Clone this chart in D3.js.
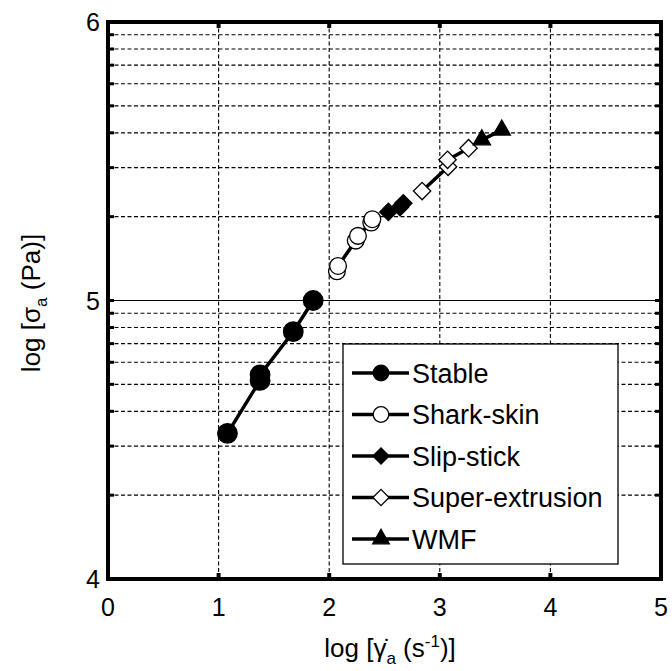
<!DOCTYPE html>
<html><head><meta charset="utf-8">
<script src="https://cdn.jsdelivr.net/npm/d3@7"></script>
<style>body{margin:0;background:#fff}svg{display:block}text{font-family:"Liberation Sans",Arial,sans-serif;fill:#000}</style>
</head><body>
<svg id="c" width="672" height="671"></svg>
<script>
// ---- data ----
const xTicks = [0, 1, 2, 3, 4, 5];
const yTicks = [4, 5, 6];
const seriesNames = ["Stable", "Shark-skin", "Slip-stick", "Super-extrusion", "WMF"];
const stableX = [1.08, 1.375, 1.375, 1.675, 1.855];
const stableY = [4.523, 4.713, 4.733, 4.888, 5.0];
const sharkX = [2.07, 2.08, 2.24, 2.26, 2.38, 2.39];
const sharkY = [5.105, 5.124, 5.215, 5.232, 5.28, 5.292];
const slipX = [2.535, 2.64, 2.67];
const slipY = [5.318, 5.335, 5.349];
const superX = [2.84, 3.075, 3.07, 3.26];
const superY = [5.393, 5.48, 5.505, 5.547];
const wmfX = [3.38, 3.56];
const wmfY = [5.577, 5.612];

const svg = d3.select("#c");
const L = 108, R = 661, T = 22, B = 579;
const x = d3.scaleLinear().domain([0, 5]).range([L, R]);
const y = d3.scaleLinear().domain([4, 6]).range([B, T]);

// minor log grid values
const minor = [];
[4, 5].forEach(e => { for (let k = 2; k <= 9; k++) minor.push(e + Math.log10(k)); });

const g = svg.append("g");
g.selectAll(".hg").data(minor).join("line")
  .attr("x1", L).attr("x2", R).attr("y1", d => y(d)).attr("y2", d => y(d))
  .attr("stroke", "#000").attr("stroke-width", 1.1).attr("stroke-dasharray", "4,2.5");
g.append("line").attr("x1", L).attr("x2", R).attr("y1", y(5)).attr("y2", y(5))
  .attr("stroke", "#000").attr("stroke-width", 1.1);
g.selectAll(".vg").data([1, 2, 3, 4]).join("line")
  .attr("x1", d => x(d)).attr("x2", d => x(d)).attr("y1", T).attr("y2", B)
  .attr("stroke", "#000").attr("stroke-width", 1.1).attr("stroke-dasharray", "4,2.5");

// ticks (inward)
const tk = svg.append("g");
[1, 2, 3, 4].forEach(v => {
  tk.append("line").attr("x1", x(v)).attr("x2", x(v)).attr("y1", B).attr("y2", B - 6).attr("stroke", "#000").attr("stroke-width", 4);
  tk.append("line").attr("x1", x(v)).attr("x2", x(v)).attr("y1", T).attr("y2", T + 6).attr("stroke", "#000").attr("stroke-width", 4);
});
minor.concat([5]).forEach(v => {
  tk.append("line").attr("x1", L).attr("x2", L + 6).attr("y1", y(v)).attr("y2", y(v)).attr("stroke", "#000").attr("stroke-width", 3);
  tk.append("line").attr("x1", R).attr("x2", R - 6).attr("y1", y(v)).attr("y2", y(v)).attr("stroke", "#000").attr("stroke-width", 3);
});

// border
svg.append("rect").attr("x", L).attr("y", T).attr("width", R - L).attr("height", B - T)
  .attr("fill", "none").attr("stroke", "#000").attr("stroke-width", 4);

// tick labels
svg.selectAll(".xl").data(xTicks).join("text")
  .attr("x", d => x(d)).attr("y", 616).attr("text-anchor", "middle")
  .attr("font-size", 25).text(d => d);
svg.selectAll(".yl").data(yTicks).join("text")
  .attr("x", 100).attr("y", d => y(d) + 9).attr("text-anchor", "end")
  .attr("font-size", 25).text(d => d);

// axis titles
const xt = svg.append("text").attr("x", 390).attr("y", 657).attr("text-anchor", "middle").attr("font-size", 26);
xt.append("tspan").text("log [\u03B3\u0307");
xt.append("tspan").attr("dy", 7).attr("font-size", 17).text("a");
xt.append("tspan").attr("dy", -7).text(" (s");
xt.append("tspan").attr("dy", -10).attr("font-size", 17).text("-1");
xt.append("tspan").attr("dy", 10).text(")]");

const yt = svg.append("text").attr("transform", "translate(40,303) rotate(-90)").attr("text-anchor", "middle").attr("font-size", 26);
yt.append("tspan").text("log [\u03C3");
yt.append("tspan").attr("dy", 7).attr("font-size", 17).text("a");
yt.append("tspan").attr("dy", -7).text(" (Pa)]");

// series
const series = [
  {name: seriesNames[0], xs: stableX, ys: stableY, sym: "circle", fill: "#000", size: 300, lsize: 190},
  {name: seriesNames[1], xs: sharkX, ys: sharkY, sym: "circle", fill: "#fff", size: 220, lsize: 190},
  {name: seriesNames[2], xs: slipX, ys: slipY, sym: "diamond", fill: "#000", size: 150, lsize: 130},
  {name: seriesNames[3], xs: superX, ys: superY, sym: "diamond", fill: "#fff", size: 150, lsize: 130},
  {name: seriesNames[4], xs: wmfX, ys: wmfY, sym: "triangle", fill: "#000", size: 130, lsize: 120}
];
const symMap = {circle: d3.symbolCircle, diamond: d3.symbolSquare, triangle: d3.symbolTriangle};
function sym(s, size) {
  return d3.symbol().type(symMap[s]).size(size)();
}
const line = d3.line().x(d => x(d[0])).y(d => y(d[1]));
series.forEach(s => {
  const pts = s.xs.map((v, i) => [v, s.ys[i]]);
  svg.append("path").attr("d", line(pts)).attr("fill", "none").attr("stroke", "#000").attr("stroke-width", 3.5);
  svg.selectAll(null).data(pts).join("path")
    .attr("d", sym(s.sym, s.size))
    .attr("transform", d => `translate(${x(d[0])},${y(d[1])})` + (s.sym === "diamond" ? " rotate(45)" : ""))
    .attr("fill", s.fill).attr("stroke", "#000").attr("stroke-width", 1.3);
});

// legend
const lg = svg.append("g");
lg.append("rect").attr("x", 343).attr("y", 344).attr("width", 275).attr("height", 220)
  .attr("fill", "#fff").attr("stroke", "#000").attr("stroke-width", 1.3);
series.forEach((s, i) => {
  const cy = 373 + i * 41.5;
  lg.append("line").attr("x1", 352).attr("x2", 409).attr("y1", cy).attr("y2", cy).attr("stroke", "#000").attr("stroke-width", 3.5);
  lg.append("path").attr("d", sym(s.sym, s.lsize))
    .attr("transform", `translate(381,${cy})` + (s.sym === "diamond" ? " rotate(45)" : ""))
    .attr("fill", s.fill).attr("stroke", "#000").attr("stroke-width", 1.3);
  lg.append("text").attr("x", 412).attr("y", cy + 9.5).attr("font-size", 27).text(s.name);
});
</script>
</body></html>
